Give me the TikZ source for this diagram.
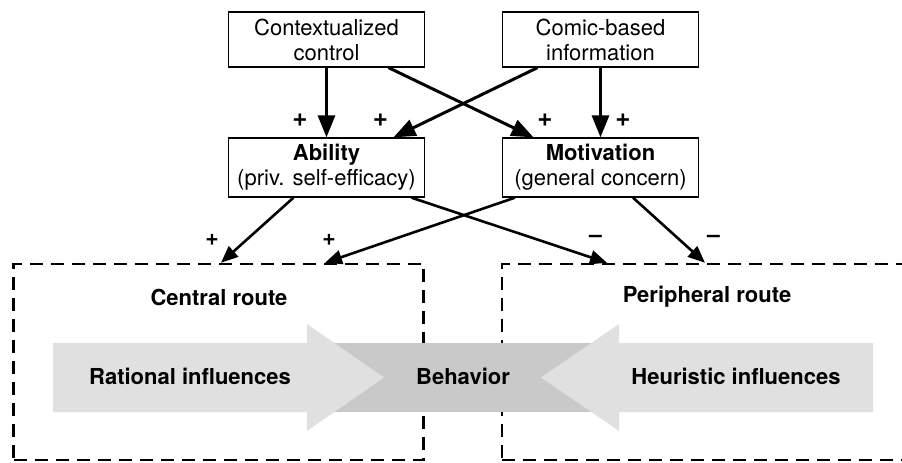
\documentclass[tikz,border=0pt]{standalone}
\usepackage{fontspec}
\setmainfont{TeX Gyre Heros}
\usetikzlibrary{arrows.meta,calc}

\definecolor{palegray}{RGB}{224,224,224}
\definecolor{midgray}{RGB}{201,201,201}

\begin{document}
\begin{tikzpicture}[x=0.5pt,y=-0.5pt,
  font=\fontsize{11}{12.5}\selectfont,
  box/.style={draw,line width=0.65pt,minimum width=98pt,align=center,inner sep=1pt},
  routebox/.style={draw,line width=1.25pt,dash pattern=on 6.5pt off 4pt,
    minimum width=205pt,minimum height=98pt},
  link/.style={-{Triangle[length=11pt,width=8.5pt]},line width=1.5pt},
  lowlink/.style={-{Triangle[length=8.5pt,width=7pt]},line width=1.3pt},
  sign/.style={font=\fontsize{13}{14}\selectfont\bfseries,inner sep=0pt},
  lowsign/.style={font=\fontsize{11.5}{13}\selectfont\bfseries,inner sep=0pt},
  title/.style={font=\fontsize{11}{12.5}\selectfont\bfseries}]
\useasboundingbox (0,0) rectangle (902,462);
\clip (0,0) rectangle (902,462);

\node[box,minimum height=27.5pt] (ctx) at (326.5,39.5) {Contextualized\\control};
\node[box,minimum height=27.5pt] (comic) at (600.5,39.5) {Comic-based\\information};
\node[box,minimum height=29.5pt] (abil) at (326.5,167.5) {\textbf{Ability}\\(priv. self-efficacy)};
\node[box,minimum height=29.5pt] (motiv) at (600.5,167.5) {\textbf{Motivation}\\(general concern)};

\node[routebox] (central) at (218.5,362) {};
\node[routebox] (periph) at (707,362) {};

\fill[midgray] (320,343) rectangle (605,412);
\fill[palegray] (53,343) -- (307,343) -- (307,324) -- (384,377.5) -- (307,431) -- (307,412) -- (53,412) -- cycle;
\fill[palegray] (873,343) -- (619,343) -- (619,324) -- (541,377.5) -- (619,431) -- (619,412) -- (873,412) -- cycle;

\node[title] (centraltitle) at (219,297) {Central route};
\node[title] (periphtitle) at (707,297) {Peripheral route};
\node[title] (rational) at (190,376) {Rational influences};
\node[title] (behavior) at (463,376) {Behavior};
\node[title] (heuristic) at (736,376) {Heuristic influences};

\draw[link] (ctx.south) -- (abil.north);
\draw[link] (comic.south) -- (motiv.north);
\draw[link] ($(ctx.south)+(62,0)$) -- ($(motiv.north)+(-67,0)$);
\draw[link] ($(comic.south)+(-63,0)$) -- ($(abil.north)+(67,0)$);

\node[sign] (p1) at (300,120) {+};
\node[sign] (p2) at (380.5,120) {+};
\node[sign] (p3) at (545,120) {+};
\node[sign] (p4) at (623,120) {+};

\draw[lowlink] ($(abil.south)+(-33,0)$) -- ($(central.north)+(2.5,0)$);
\draw[lowlink] ($(abil.south)+(85,0)$) -- ($(periph.north)+(-100,0)$);
\draw[lowlink] ($(motiv.south)+(-85.5,0)$) -- ($(central.north)+(106.5,0)$);
\draw[lowlink] ($(motiv.south)+(32.5,0)$) -- ($(periph.north)+(-2,0)$);

\node[lowsign] (p5) at (212,240) {+};
\node[lowsign] (p6) at (329,240) {+};
\node[lowsign] (m1) at (595.5,239) {–};
\node[lowsign] (m2) at (713.5,239) {–};

\end{tikzpicture}
\end{document}
